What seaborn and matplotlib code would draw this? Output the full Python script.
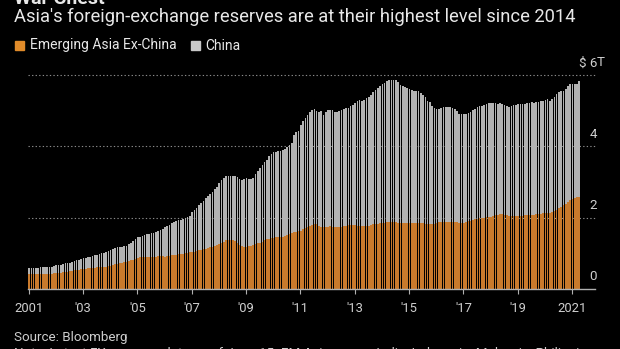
import matplotlib
matplotlib.use("Agg")
import matplotlib.pyplot as plt
import matplotlib.patches as mpatches
from matplotlib.transforms import blended_transform_factory
import numpy as np
import pandas as pd
import seaborn as sns

# ---------------- data (US$ trillions, monthly Jan 2001 - Apr 2021) -------------
# total = Emerging Asia ex-China + China (top of the grey bar)
total = [
    0.60, 0.60, 0.60, 0.60, 0.60, 0.61, 0.61, 0.61, 0.62, 0.62, 0.63, 0.64,  # 2001
    0.66, 0.67, 0.68, 0.70, 0.72, 0.73, 0.74, 0.76, 0.78, 0.80, 0.82, 0.84,  # 2002
    0.87, 0.88, 0.89, 0.90, 0.92, 0.94, 0.96, 0.98, 1.00, 1.02, 1.04, 1.07,  # 2003
    1.09, 1.12, 1.15, 1.17, 1.18, 1.19, 1.20, 1.21, 1.25, 1.30, 1.35, 1.40,  # 2004
    1.45, 1.47, 1.49, 1.51, 1.53, 1.54, 1.56, 1.58, 1.60, 1.62, 1.65, 1.68,  # 2005
    1.74, 1.77, 1.80, 1.84, 1.87, 1.90, 1.93, 1.94, 1.95, 1.98, 2.02, 2.06,  # 2006
    2.15, 2.22, 2.28, 2.35, 2.42, 2.48, 2.54, 2.60, 2.66, 2.73, 2.80, 2.87,  # 2007
    2.96, 3.05, 3.12, 3.16, 3.17, 3.17, 3.16, 3.16, 3.15, 3.08, 3.06, 3.07,  # 2008
    3.10, 3.09, 3.08, 3.12, 3.22, 3.32, 3.40, 3.47, 3.55, 3.63, 3.72, 3.79,  # 2009
    3.83, 3.85, 3.87, 3.88, 3.90, 3.93, 3.98, 4.04, 4.10, 4.33, 4.40, 4.43,  # 2010
    4.60, 4.72, 4.80, 4.88, 4.97, 5.02, 5.05, 4.98, 4.95, 5.00, 4.89, 4.95,  # 2011
    5.03, 5.02, 5.03, 4.97, 4.95, 5.00, 5.03, 5.04, 5.07, 5.08, 5.12, 5.15,  # 2012
    5.22, 5.27, 5.31, 5.28, 5.30, 5.35, 5.38, 5.45, 5.52, 5.59, 5.64, 5.69,  # 2013
    5.74, 5.78, 5.82, 5.85, 5.87, 5.87, 5.86, 5.80, 5.73, 5.70, 5.66, 5.63,  # 2014
    5.60, 5.57, 5.56, 5.55, 5.55, 5.50, 5.45, 5.37, 5.28, 5.25, 5.12, 5.07,  # 2015
    5.04, 5.06, 5.08, 5.09, 5.09, 5.10, 5.09, 5.08, 5.04, 4.98, 4.92, 4.90,  # 2016
    4.90, 4.91, 4.94, 4.97, 5.02, 5.06, 5.10, 5.13, 5.14, 5.17, 5.19, 5.21,  # 2017
    5.22, 5.22, 5.21, 5.20, 5.21, 5.18, 5.17, 5.14, 5.10, 5.14, 5.15, 5.17,  # 2018
    5.18, 5.19, 5.20, 5.20, 5.21, 5.22, 5.23, 5.22, 5.23, 5.25, 5.27, 5.26,  # 2019
    5.30, 5.32, 5.28, 5.32, 5.38, 5.47, 5.52, 5.55, 5.56, 5.62, 5.70, 5.75,  # 2020
    5.76, 5.74, 5.76, 5.83,                                                  # 2021
]
ex_china = [
    0.41, 0.41, 0.41, 0.41, 0.41, 0.41, 0.42, 0.42, 0.42, 0.43, 0.43, 0.44,  # 2001
    0.45, 0.46, 0.46, 0.47, 0.48, 0.49, 0.50, 0.51, 0.52, 0.53, 0.54, 0.56,  # 2002
    0.56, 0.57, 0.58, 0.58, 0.59, 0.60, 0.61, 0.62, 0.62, 0.63, 0.63, 0.64,  # 2003
    0.65, 0.67, 0.69, 0.71, 0.72, 0.74, 0.76, 0.77, 0.78, 0.80, 0.82, 0.85,  # 2004
    0.88, 0.89, 0.89, 0.90, 0.90, 0.90, 0.91, 0.91, 0.91, 0.92, 0.92, 0.93,  # 2005
    0.91, 0.92, 0.93, 0.94, 0.95, 0.96, 0.97, 0.98, 0.99, 1.00, 1.01, 1.03,  # 2006
    1.04, 1.05, 1.07, 1.08, 1.10, 1.12, 1.13, 1.15, 1.17, 1.19, 1.21, 1.23,  # 2007
    1.26, 1.29, 1.33, 1.36, 1.37, 1.37, 1.36, 1.34, 1.30, 1.24, 1.20, 1.18,  # 2008
    1.19, 1.20, 1.21, 1.23, 1.26, 1.28, 1.30, 1.33, 1.36, 1.39, 1.41, 1.43,  # 2009
    1.44, 1.45, 1.46, 1.47, 1.47, 1.48, 1.50, 1.53, 1.56, 1.59, 1.61, 1.62,  # 2010
    1.64, 1.67, 1.70, 1.74, 1.77, 1.79, 1.81, 1.82, 1.76, 1.73, 1.74, 1.73,  # 2011
    1.74, 1.76, 1.75, 1.74, 1.73, 1.74, 1.75, 1.76, 1.78, 1.79, 1.79, 1.79,  # 2012
    1.79, 1.78, 1.77, 1.76, 1.78, 1.77, 1.78, 1.80, 1.81, 1.82, 1.83, 1.84,  # 2013
    1.85, 1.86, 1.87, 1.88, 1.88, 1.88, 1.87, 1.86, 1.84, 1.84, 1.84, 1.84,  # 2014
    1.84, 1.84, 1.85, 1.85, 1.85, 1.84, 1.84, 1.83, 1.82, 1.82, 1.82, 1.83,  # 2015
    1.86, 1.87, 1.88, 1.88, 1.89, 1.89, 1.89, 1.89, 1.88, 1.87, 1.86, 1.85,  # 2016
    1.86, 1.88, 1.90, 1.92, 1.94, 1.96, 1.97, 1.98, 1.99, 2.00, 2.01, 2.02,  # 2017
    2.03, 2.05, 2.07, 2.08, 2.09, 2.09, 2.08, 2.07, 2.06, 2.04, 2.04, 2.04,  # 2018
    2.05, 2.06, 2.06, 2.07, 2.07, 2.08, 2.08, 2.08, 2.09, 2.10, 2.11, 2.12,  # 2019
    2.13, 2.14, 2.12, 2.15, 2.18, 2.22, 2.27, 2.31, 2.35, 2.39, 2.44, 2.50,  # 2020
    2.53, 2.55, 2.57, 2.59,                                                  # 2021
]
start_month = "2001-01"
tick_years = [2001, 2003, 2005, 2007, 2009, 2011, 2013, 2015, 2017, 2019, 2021]
tick_labels = ["2001", "'03", "'05", "'07", "'09", "'11", "'13", "'15", "'17", "'19", "2021"]
y_ticks = [0, 2, 4, 6]
y_tick_labels = ["0", "2", "4", "$ 6"]

title = "War Chest"
subtitle = "Asia's foreign-exchange reserves are at their highest level since 2014"
legend_names = ["Emerging Asia Ex-China", "China"]
source = "Source: Bloomberg"
note = "Note: Latest FX reserves data as of June 15. EM Asia covers India, Indonesia, Malaysia, Philippines"

# ---------------- styling -------------------------------------------------------
ORANGE = "#c97a2c"
GREY = "#b3b3b3"
LEG_ORANGE = "#e08b2a"
LEG_GREY = "#c8c8c8"
BG = "#000000"
TXT = "#e8e8e8"
TICK_TXT = "#cfcfcf"

sns.set_style("dark", {"axes.facecolor": BG, "figure.facecolor": BG})
plt.rcParams["font.family"] = ["Roboto", "DejaVu Sans"]

W, H = 620, 349
fig = plt.figure(figsize=(W / 100, H / 100), dpi=100)
fig.patch.set_facecolor(BG)

# axes placement in pixels
ax_left, ax_right, ax_bottom_px = 28, 595, 289
px_per_unit = 35.67
ymax = 6.1
ax_top_px = ax_bottom_px - ymax * px_per_unit
ax = fig.add_axes([ax_left / W, 1 - ax_bottom_px / H,
                   (ax_right - ax_left) / W, (ax_bottom_px - ax_top_px) / H])
ax.set_facecolor(BG)

months = pd.date_range(start_month, periods=len(total), freq="MS")
df = pd.DataFrame({"month": months.strftime("%Y-%m"),
                   "total": total, "ex_china": ex_china})

sns.barplot(data=df, x="month", y="total", color=GREY, saturation=1,
            width=0.72, linewidth=0, ax=ax)
sns.barplot(data=df, x="month", y="ex_china", color=ORANGE, saturation=1,
            width=0.72, linewidth=0, ax=ax)

px_per_month = 2.264
ax.set_xlim(-0.5, -0.5 + (ax_right - ax_left) / px_per_month)
ax.set_ylim(0, ymax)

# gridlines (dotted) at 2,4,6
for v in y_ticks[1:]:
    ax.axhline(v, color="#8a8a8a", lw=0.8, ls=(0, (1.2, 2.0)), zorder=0.5, clip_on=False)

for s in ["top", "right", "left"]:
    ax.spines[s].set_visible(False)
ax.spines["bottom"].set_color("#b0b0b0")
ax.spines["bottom"].set_linewidth(1.0)

# x ticks at January of labelled years
tick_pos = [list(months.year).index(y) - 0.2 for y in tick_years]
ax.set_xticks(tick_pos)
ax.set_xticklabels(tick_labels)
ax.tick_params(axis="x", length=3.8, width=0.8, color="#b0b0b0", pad=5.5,
               labelsize=9.4, labelcolor=TICK_TXT, bottom=True)
ax.set_yticks([])
ax.set_xlabel("")
ax.set_ylabel("")
ax.grid(False)

# right-hand value labels
tr = blended_transform_factory(ax.transAxes, ax.transData)
xr = (597 - ax_left) / (ax_right - ax_left)
off = 8.5 / px_per_unit
for v, lab in zip(y_ticks, y_tick_labels):
    ax.text(xr, v + off, lab, transform=tr, ha="right", va="baseline",
            fontsize=9.6, color=TICK_TXT, clip_on=False)
ax.text(xr, y_ticks[-1] + off, "T", transform=tr, ha="left", va="baseline",
        fontsize=9.6, color=TICK_TXT, clip_on=False)

# ---------------- texts ---------------------------------------------------------
def fy(px):
    return 1 - px / H

fig.text(13.8 / W, fy(4), title, fontsize=14, fontweight="bold", color=TXT, va="baseline")
sub = fig.text(13.8 / W, fy(22), subtitle, fontsize=12, color=TXT, va="baseline")

# fit subtitle width to the reference (~559 px)
fig.canvas.draw()
r = fig.canvas.get_renderer()
wpx = sub.get_window_extent(r).width
sub.set_fontsize(12 * 559 / wpx)

# legend
fig.patches.append(mpatches.Rectangle((15 / W, fy(49.5)), 9 / W, 8.5 / H,
                                      transform=fig.transFigure, color=LEG_ORANGE))
fig.text(29.6 / W, fy(49.5), legend_names[0], fontsize=10, color=TXT, va="baseline")
fig.patches.append(mpatches.Rectangle((191 / W, fy(49.5)), 9 / W, 8.5 / H,
                                      transform=fig.transFigure, color=LEG_GREY))
fig.text(205 / W, fy(49.5), legend_names[1], fontsize=10, color=TXT, va="baseline")

fig.text(13.8 / W, fy(341.5), source, fontsize=9.6, color=TICK_TXT, va="baseline")
fig.text(13.8 / W, fy(356.5), note, fontsize=9.6, color=TICK_TXT, va="baseline")

fig.savefig("out.png", dpi=100, facecolor=BG)
